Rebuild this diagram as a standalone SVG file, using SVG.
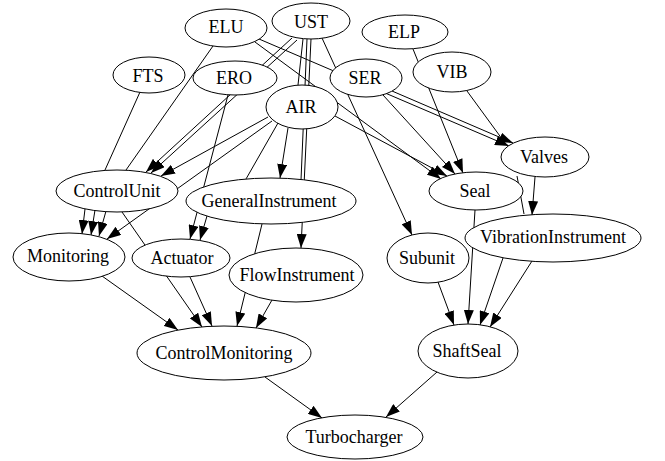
<svg xmlns="http://www.w3.org/2000/svg" width="665" height="461" viewBox="0 0 665 461">
<defs>
<marker id="ah" markerUnits="userSpaceOnUse" markerWidth="14" markerHeight="10" viewBox="0 0 14 10" refX="14" refY="5" orient="auto"><path d="M0,0 L14,5 L0,10 z" fill="#000"/></marker>
<style>
.edges line{stroke:#000;stroke-width:1;fill:none}
.edges line.a{marker-end:url(#ah)}
.node ellipse{fill:#fff;stroke:#000;stroke-width:1}
.node text{font-family:"Liberation Serif","Times New Roman",serif;font-size:18px;text-anchor:middle;fill:#000}
</style>
</defs>
<rect width="665" height="461" fill="#fff"/>
<g id="edges" class="edges">
<line x1="140" y1="92" x2="105" y2="170"/>
<line x1="213" y1="46" x2="126" y2="170"/>
<line class="a" x1="292" y1="38" x2="146" y2="172"/>
<line class="a" x1="297" y1="40" x2="151" y2="173"/>
<line class="a" x1="268" y1="117" x2="161" y2="176"/>
<line class="a" x1="228" y1="95" x2="190" y2="239"/>
<line class="a" x1="207" y1="216" x2="200" y2="240"/>
<line class="a" x1="85" y1="209" x2="82" y2="234"/>
<line class="a" x1="95" y1="210" x2="91" y2="235"/>
<line class="a" x1="106" y1="211" x2="99" y2="236"/>
<line class="a" x1="272" y1="121" x2="107" y2="239"/>
<line x1="303" y1="39" x2="298" y2="85"/>
<line x1="307" y1="39" x2="301" y2="180"/>
<line class="a" x1="311" y1="39" x2="301" y2="248"/>
<line x1="278" y1="123" x2="246" y2="179"/>
<line class="a" x1="288" y1="128" x2="280" y2="178"/>
<line class="a" x1="262" y1="224" x2="237" y2="326"/>
<line class="a" x1="272" y1="300" x2="256" y2="328"/>
<line class="a" x1="102" y1="276" x2="178" y2="330"/>
<line class="a" x1="122" y1="212" x2="202" y2="327"/>
<line class="a" x1="190" y1="277" x2="212" y2="326"/>
<line class="a" x1="255" y1="42" x2="441" y2="179"/>
<line class="a" x1="335" y1="116" x2="447" y2="176"/>
<line class="a" x1="383" y1="95" x2="455" y2="174"/>
<line class="a" x1="413" y1="49" x2="463" y2="173"/>
<line class="a" x1="259" y1="39" x2="509" y2="146"/>
<line class="a" x1="392" y1="91" x2="513" y2="143"/>
<line x1="467" y1="91" x2="505" y2="143"/>
<line class="a" x1="322" y1="38" x2="412" y2="235"/>
<line x1="517" y1="176" x2="524" y2="214"/>
<line class="a" x1="535" y1="177" x2="532" y2="215"/>
<line class="a" x1="475" y1="210" x2="468" y2="324"/>
<line class="a" x1="503" y1="258" x2="480" y2="325"/>
<line class="a" x1="532" y1="261" x2="490" y2="327"/>
<line class="a" x1="438" y1="282" x2="454" y2="325"/>
<line class="a" x1="265" y1="377" x2="322" y2="418"/>
<line class="a" x1="437" y1="372" x2="386" y2="417"/>
</g>
<g id="ELU" class="node"><ellipse cx="226" cy="28" rx="41" ry="19"/><text x="226" y="33">ELU</text></g>
<g id="UST" class="node"><ellipse cx="311" cy="21" rx="39" ry="18"/><text x="311" y="28">UST</text></g>
<g id="ELP" class="node"><ellipse cx="405" cy="32" rx="43" ry="17"/><text x="404" y="38">ELP</text></g>
<g id="FTS" class="node"><ellipse cx="149" cy="75" rx="36" ry="18"/><text x="148" y="82">FTS</text></g>
<g id="ERO" class="node"><ellipse cx="235" cy="78" rx="42" ry="17"/><text x="234" y="84">ERO</text></g>
<g id="SER" class="node"><ellipse cx="366" cy="78" rx="36" ry="19"/><text x="365" y="84">SER</text></g>
<g id="VIB" class="node"><ellipse cx="452" cy="72" rx="39" ry="20"/><text x="452" y="78">VIB</text></g>
<g id="AIR" class="node"><ellipse cx="302" cy="107" rx="36" ry="22"/><text x="301" y="113">AIR</text></g>
<g id="Valves" class="node"><ellipse cx="545" cy="157" rx="44" ry="20"/><text x="544" y="163">Valves</text></g>
<g id="ControlUnit" class="node"><ellipse cx="117" cy="191" rx="61" ry="21"/><text x="117" y="197">ControlUnit</text></g>
<g id="Seal" class="node"><ellipse cx="476" cy="191" rx="47" ry="19"/><text x="475" y="197">Seal</text></g>
<g id="GeneralInstrument" class="node"><ellipse cx="271" cy="201" rx="85" ry="23"/><text x="269" y="207">GeneralInstrument</text></g>
<g id="VibrationInstrument" class="node"><ellipse cx="553" cy="238" rx="88" ry="24"/><text x="553" y="243">VibrationInstrument</text></g>
<g id="Monitoring" class="node"><ellipse cx="69" cy="257" rx="56" ry="24"/><text x="68" y="262">Monitoring</text></g>
<g id="Actuator" class="node"><ellipse cx="181" cy="258" rx="49" ry="19"/><text x="182" y="264">Actuator</text></g>
<g id="Subunit" class="node"><ellipse cx="428" cy="258" rx="41" ry="25"/><text x="427" y="264">Subunit</text></g>
<g id="FlowInstrument" class="node"><ellipse cx="296" cy="275" rx="67" ry="27"/><text x="297" y="281">FlowInstrument</text></g>
<g id="ControlMonitoring" class="node"><ellipse cx="224" cy="353" rx="87" ry="27"/><text x="224" y="359">ControlMonitoring</text></g>
<g id="ShaftSeal" class="node"><ellipse cx="468" cy="351" rx="50" ry="27"/><text x="467" y="357">ShaftSeal</text></g>
<g id="Turbocharger" class="node"><ellipse cx="355" cy="437" rx="68" ry="22"/><text x="354" y="443">Turbocharger</text></g>
</svg>
